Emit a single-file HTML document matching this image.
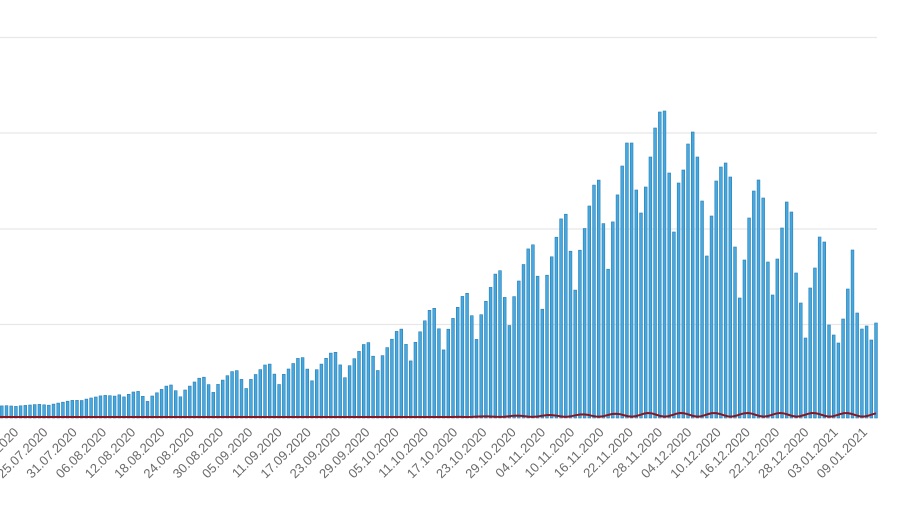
<!DOCTYPE html>
<html><head><meta charset="utf-8"><style>
html,body{margin:0;padding:0;background:#fff;width:900px;height:505px;overflow:hidden}
svg{display:block}
text{font-family:"Liberation Sans",sans-serif;font-size:13px;fill:#6a6a6a}
</style></head><body>
<div id="wrap"></div>
<script>
(function(){
var N=187,S=4.7,B=418;
var tail=[166,143,143,190,213,187,157,128,112,111,173,232,183,170,144,132,157,201,256,216,181,167,163,177,247,298,260,218,191,180,198,262,295,259,228,202,212,273,303,338,288,268,237,242,325,335,343,319,289,250,313,329,326,340,323];
var env=[[0,12],[50,14],[100,22],[150,28],[200,40],[250,50],[300,60],[350,68],[400,88],[430,108],[460,120],[490,140],[520,162],[550,188],[580,218],[610,250],[625,275]];
function E(x){for(var k=0;k<env.length-1;k++){if(x<=env[k+1][0]){var a=env[k],b=env[k+1];return a[1]+(b[1]-a[1])*(x-a[0])/(b[0]-a[0]);}}return env[env.length-1][1];}
var f=[.6,.77,.85,.93,1,1,.8];
var s='<svg width="900" height="505" xmlns="http://www.w3.org/2000/svg"><g stroke="#e8e8e8" stroke-width="1.2">';
var gl=[37.5,133,229,324.5];
for(var g=0;g<gl.length;g++)s+='<line x1="0" y1="'+gl[g]+'" x2="877" y2="'+gl[g]+'"/>';
s+='</g>';
for(var i=0;i<N;i++){
 var x=876-(N-1-i)*S,top;
 var ti=i-(N-tail.length);
 if(ti>=0) top=tail[ti];
 else{var p=((i-143)%7+7)%7;var ff=f[p];if(x<120)ff=0.8+0.2*ff;top=B-E(x)*ff;}
 s+='<rect x="'+(x-1.4).toFixed(2)+'" y="'+top.toFixed(1)+'" width="2.8" height="'+(B-top).toFixed(1)+'" fill="#45a8df" stroke="#2a7db5" stroke-width="0.6"/>';
}
var d='M0,417';
for(var x2=0;x2<=877;x2+=4){var y=417;if(x2>450){var a=Math.min(1,(x2-450)/200);y=417-a*(2.2+1.8*Math.sin((x2-640)/33*Math.PI*2));}d+=' L'+x2+','+y.toFixed(2);}
s+='<path d="'+d+'" fill="none" stroke="#8b1620" stroke-width="2"/>';
var labs=['13.07.2020','19.07.2020','25.07.2020','31.07.2020','06.08.2020','12.08.2020','18.08.2020','24.08.2020','30.08.2020','05.09.2020','11.09.2020','17.09.2020','23.09.2020','29.09.2020','05.10.2020','11.10.2020','17.10.2020','23.10.2020','29.10.2020','04.11.2020','10.11.2020','16.11.2020','22.11.2020','28.11.2020','04.12.2020','10.12.2020','16.12.2020','22.12.2020','28.12.2020','03.01.2021','09.01.2021'];
for(var k=0;k<labs.length;k++){var lx=-13+k*(878/30);
 s+='<text text-anchor="end" transform="translate('+(lx+3).toFixed(1)+',433) rotate(-45)">'+labs[k]+'</text>';}
s+='</svg>';
document.getElementById('wrap').innerHTML=s;
})();
</script>
</body></html>
